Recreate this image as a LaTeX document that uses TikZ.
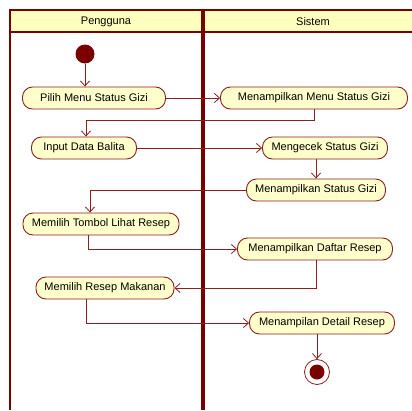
\documentclass[tikz,border=0pt]{standalone}
\usepackage{fontspec}
\setmainfont{Liberation Sans}
\usepackage{tikz}
\usetikzlibrary{arrows.meta, positioning, calc}
\definecolor{lanered}{RGB}{122,0,0}
\definecolor{linkred}{RGB}{140,30,30}
\definecolor{actfill}{RGB}{255,255,204}
\definecolor{headfill}{RGB}{255,255,190}
\tikzset{
  % Activity diagram styles
  activity/.style={rectangle, rounded corners=10pt, minimum width=#1, minimum height=22pt, inner xsep=2pt, text centered, draw=linkred, fill=actfill, line width=0.9pt, font=\fontsize{11}{13}\selectfont},
  activity/.default={120pt},
  lanetitle/.style={font=\fontsize{11}{13}\selectfont},
  initial/.style={circle, fill=lanered, minimum size=19pt, inner sep=0pt},
  final/.style={circle, draw=linkred, fill=white, line width=0.8pt, minimum size=25pt, inner sep=0pt},
  finaldot/.style={circle, fill=lanered, minimum size=15pt, inner sep=0pt},
  arrow/.style={-{Straight Barb[length=5pt, width=9pt]}, draw=linkred, line width=0.8pt},
  lane/.style={draw=lanered, line width=#1},
}
\begin{document}
\begin{tikzpicture}[x=1pt, y=-1pt]
    \useasboundingbox (0,0) rectangle (412,410);

    % Swimlanes
    \fill[headfill] (10,10) rectangle (412,32);
    \draw[lane=2pt] (10,10) -- (412,10);
    \draw[lane=2pt] (10,32) -- (412,32);
    \draw[lane=2.5pt] (10,9) -- (10,410);
    \draw[lane=4pt] (202.5,9) -- (202.5,410);
    \node[lanetitle] (hdruser) at (106,21.5) {Pengguna};
    \node[lanetitle] (hdrsys) at (313,21.5) {Sistem};

    % Start
    \node[initial] (start) at (85,54) {};

    % Activities
    \node[activity=143pt] (pilih) at (94,98) {Pilih Menu Status Gizi};
    \node[activity=187pt] (tampilmenu) at (314,98) {Menampilkan Menu Status Gizi};
    \node[activity=105pt] (input) at (84,148) {Input Data Balita};
    \node[activity=125pt] (cek) at (325,148) {Mengecek Status Gizi};
    \node[activity=139pt] (tampilstatus) at (316,190) {Menampilkan Status Gizi};
    \node[activity=156pt] (tombol) at (101,224) {Memilih Tombol Lihat Resep};
    \node[activity=155pt] (daftar) at (315,249) {Menampilkan Daftar Resep};
    \node[activity=138pt] (resep) at (105,288) {Memilih Resep Makanan};
    \node[activity=145pt] (detail) at (322,323) {Menampilan Detail Resep};

    % End
    \node[final] (stop) at (317,372) {};
    \node[finaldot] (stopdot) at (stop) {};

    % Arrows
    \draw[arrow] (start) -- (start |- pilih.north);
    \draw[arrow] (pilih) -- (tampilmenu);
    \draw[arrow] (tampilmenu.south) -- ++(0,11) -| ([xshift=2pt]input.north);
    \draw[arrow] (input) -- (cek);
    \draw[arrow] (tampilstatus.north |- cek.south) -- (tampilstatus.north);
    \draw[arrow] (tampilstatus.west) -| ([xshift=-11pt]tombol.north);
    \draw[arrow] ([xshift=-13pt]tombol.south) |- (daftar.west);
    \draw[arrow] ([xshift=1pt]daftar.south) |- (resep.east);
    \draw[arrow] ([xshift=-19pt]resep.south) |- (detail.west);
    \draw[arrow] (stop |- detail.south) -- (stop.north);
  \end{tikzpicture}
\end{document}
